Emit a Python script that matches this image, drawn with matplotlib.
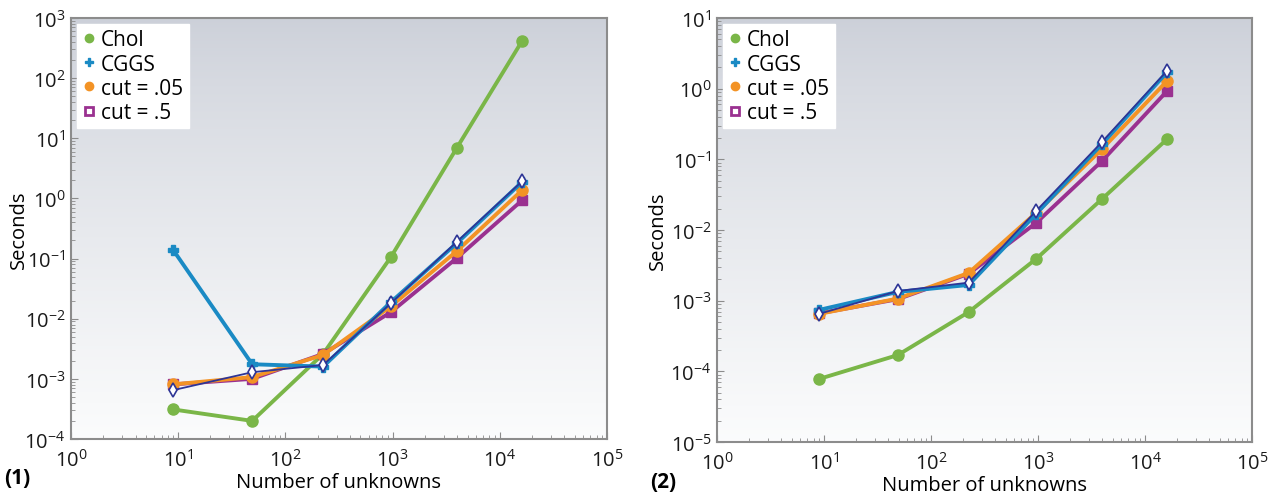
import numpy as np
import matplotlib.pyplot as plt
from matplotlib.lines import Line2D

plt.rcParams['font.family'] = ['Open Sans', 'DejaVu Sans']

# problem sizes (number of unknowns)
n_unknowns = [9, 49, 225, 961, 3969, 16129]

# panel (1) timings, seconds
chol_1 = [3.1e-4, 2.0e-4, 2.6e-3, 0.105, 6.9, 414]
cggs_1 = [0.138, 1.75e-3, 1.6e-3, 0.0188, 0.18, 1.87]
cut05_1 = [8.1e-4, 1.07e-3, 2.5e-3, 0.016, 0.133, 1.37]
cut5_1 = [8.1e-4, 1.0e-3, 2.6e-3, 0.0128, 0.102, 0.93]
diam_1 = [6.5e-4, 1.29e-3, 1.7e-3, 0.018, 0.19, 1.93]

# panel (2) timings, seconds
chol_2 = [7.8e-5, 1.7e-4, 6.9e-4, 3.9e-3, 0.0275, 0.194]
cggs_2 = [7.4e-4, 1.33e-3, 1.67e-3, 0.0169, 0.165, 1.72]
cut05_2 = [6.5e-4, 1.07e-3, 2.47e-3, 0.0175, 0.14, 1.29]
cut5_2 = [6.6e-4, 1.05e-3, 2.4e-3, 0.0126, 0.095, 0.93]
diam_2 = [6.5e-4, 1.37e-3, 1.8e-3, 0.0186, 0.177, 1.8]

c_chol = '#7ab648'
c_cggs = '#1a8ac4'
c_cut05 = '#f39325'
c_cut5 = '#9a3190'
c_diam = '#2e3596'


def panel(ax, chol, cggs, cut05, cut5, diam, ylim, label, ylab_x, lab_x):
    # grey-to-white gradient background
    grad = np.linspace(0, 1, 256).reshape(-1, 1)
    top = np.array([0.80, 0.815, 0.85])
    bot = np.array([0.985, 0.988, 0.99])
    img = top + (bot - top) * grad[:, :, None] ** 0.8
    ax.imshow(img, extent=[0, 1, 0, 1], transform=ax.transAxes,
              aspect='auto', zorder=0)

    ax.plot(n_unknowns, chol, '-o', color=c_chol, lw=2.8, ms=8, zorder=3)
    ax.plot(n_unknowns, cut5, '-s', color=c_cut5, lw=2.8, ms=7.5,
            mfc=c_cut5, zorder=4)
    ax.plot(n_unknowns, cut05, '-o', color=c_cut05, lw=2.8, ms=8, zorder=4)
    ax.plot(n_unknowns, cggs, '-P', color=c_cggs, lw=2.8, ms=7.5, zorder=5)
    ax.plot(n_unknowns, diam, '-d', color=c_diam, lw=1.3, ms=7,
            mfc='white', mew=1.2, zorder=6)

    ax.set_xscale('log')
    ax.set_yscale('log')
    ax.set_xlim(1, 1e5)
    ax.set_ylim(*ylim)
    ax.set_xticks([10.0 ** k for k in range(6)])

    for s in ['left', 'bottom', 'top', 'right']:
        ax.spines[s].set_color('#8c8c8c')
        ax.spines[s].set_linewidth(1.5)
    ax.tick_params(which='both', direction='in', colors='#8c8c8c',
                   labelcolor='#1a1a1a', labelsize=14.5)
    ax.tick_params(which='major', length=5)
    ax.tick_params(which='minor', length=3)
    ax.tick_params(axis='x', pad=7)
    ax.tick_params(axis='y', pad=4)

    ax.set_xlabel('Number of unknowns', fontsize=14.5)
    ax.xaxis.set_label_coords(0.5, -0.078)
    ax.xaxis.label.set_va('top')
    ax.set_ylabel('Seconds', fontsize=14.5)
    ax.yaxis.set_label_coords(ylab_x, 0.5)
    ax.yaxis.label.set_va('center')

    handles = [
        Line2D([], [], ls='none', marker='o', color=c_chol, ms=6),
        Line2D([], [], ls='none', marker='P', color=c_cggs, ms=6),
        Line2D([], [], ls='none', marker='o', color=c_cut05, ms=6),
        Line2D([], [], ls='none', marker='s', color=c_cut5, ms=6,
               mfc='white', mew=2),
    ]
    leg = ax.legend(handles, ['Chol', 'CGGS', 'cut = .05', 'cut = .5'],
                    loc='upper left', fontsize=15, frameon=True, fancybox=False,
                    borderaxespad=0.3, handlelength=0.6, handletextpad=0.3,
                    labelspacing=0.15, borderpad=0.25)
    leg.get_frame().set_facecolor('white')
    leg.get_frame().set_edgecolor('white')
    leg.get_frame().set_alpha(1)

    ax.text(lab_x, -0.092, label, transform=ax.transAxes, fontsize=15,
            fontweight='bold', ha='left', va='center')


fig = plt.figure(figsize=(12.75, 5.02), dpi=100)
ax1 = fig.add_axes([71 / 1275, 1 - 440 / 502, 536 / 1275, 421 / 502])
ax2 = fig.add_axes([717 / 1275, 1 - 443 / 502, 535 / 1275, 424 / 502])

panel(ax1, chol_1, cggs_1, cut05_1, cut5_1, diam_1, (1e-4, 1e3), '(1)',
      -0.097, -0.124)
panel(ax2, chol_2, cggs_2, cut05_2, cut5_2, diam_2, (1e-5, 1e1), '(2)',
      -0.11, -0.125)

fig.savefig('out.png', dpi=100)
